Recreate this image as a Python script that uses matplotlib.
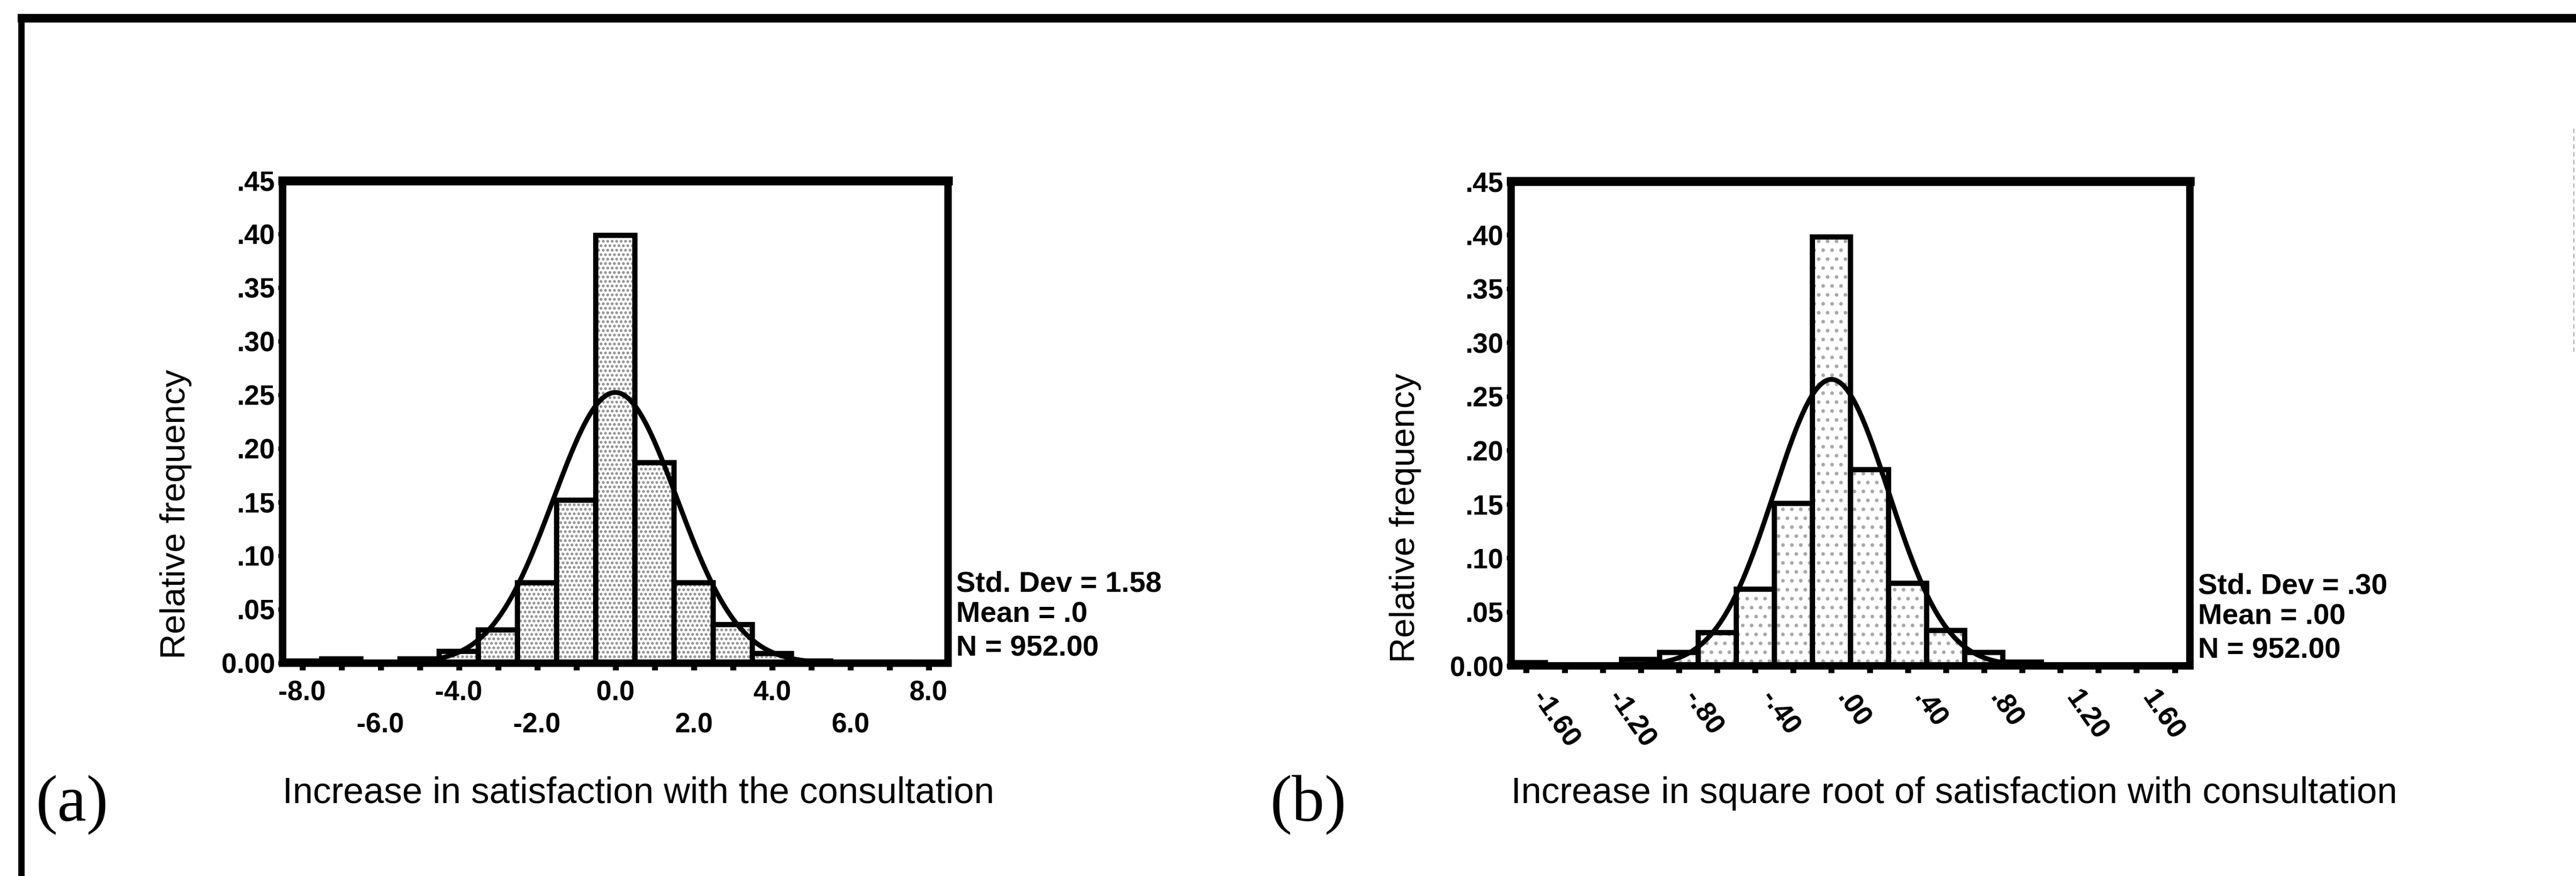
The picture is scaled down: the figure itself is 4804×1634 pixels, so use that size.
import numpy as np
import matplotlib
matplotlib.use("Agg")
import matplotlib.pyplot as plt
from matplotlib.lines import Line2D
from matplotlib.ticker import FixedLocator, FixedFormatter
from matplotlib.transforms import ScaledTranslation

plt.rcParams['font.family'] = ['Liberation Sans', 'DejaVu Sans']
plt.rcParams['hatch.linewidth'] = 2.5

# ---------------- data ----------------
# Panel (a): increase in satisfaction with the consultation
a_centers = [-8, -7, -5, -4, -3, -2, -1, 0, 1, 2, 3, 4, 5, 6, 7]
a_freq = [0.002, 0.004, 0.004, 0.011, 0.031, 0.075, 0.152, 0.399,
          0.187, 0.075, 0.036, 0.009, 0.002, 0.001, 0.001]
a_bin_width = 1.0
a_std, a_mean, a_n = 1.58, 0.0, 952
a_stats = ["Std. Dev = 1.58", "Mean = .0", "N = 952.00"]
a_xlabel = "Increase in satisfaction with the consultation"
a_row1_ticks = [-8, -4, 0, 4, 8]
a_row1_labels = ["-8.0", "-4.0", "0.0", "4.0", "8.0"]
a_row2_ticks = [-6, -2, 2, 6]
a_row2_labels = ["-6.0", "-2.0", "2.0", "6.0"]
a_other_ticks = [-7, -5, -3, -1, 1, 3, 5, 7]

# Panel (b): increase in square root of satisfaction with consultation
b_centers = [-1.6, -1.0, -0.8, -0.6, -0.4, -0.2, 0.0, 0.2, 0.4, 0.6, 0.8, 1.0, 1.2]
b_freq = [0.003, 0.006, 0.0125, 0.031, 0.071, 0.151, 0.398,
          0.182, 0.0765, 0.033, 0.0125, 0.0035, 0.001]
b_bin_width = 0.2
b_std, b_mean, b_n = 0.30, 0.0, 952
b_stats = ["Std. Dev = .30", "Mean = .00", "N = 952.00"]
b_xlabel = "Increase in square root of satisfaction with consultation"
b_label_ticks = [-1.6, -1.2, -0.8, -0.4, 0.0, 0.4, 0.8, 1.2, 1.6]
b_label_texts = ["-1.60", "-1.20", "-.80", "-.40", ".00", ".40", ".80", "1.20", "1.60"]
b_other_ticks = [-1.4, -1.0, -0.6, -0.2, 0.2, 0.6, 1.0, 1.4, 1.8]

y_ticks = [0.0, 0.05, 0.10, 0.15, 0.20, 0.25, 0.30, 0.35, 0.40, 0.45]
y_labels = ["0.00", ".05", ".10", ".15", ".20", ".25", ".30", ".35", ".40", ".45"]
y_title = "Relative frequency"

# ---------------- figure ----------------
W, H, DPI = 4804, 1634, 100
fig = plt.figure(figsize=(W / DPI, H / DPI), dpi=DPI)


def fx(px):
    return px / W


def fy(py):
    return 1 - py / H


def make_axes(l, r, t, b):
    return fig.add_axes([fx(l), fy(b), fx(r) - fx(l), fy(t) - fy(b)])


TICK_FS = 37
STAT_FS = 39
LABEL_FS = 47
XLABEL_FS = 49


def draw_panel(ax, centers, freq, width, mean, sd, xlim, hatch, hatch_color):
    ax.bar(centers, freq, width=width, color='white', edgecolor=hatch_color,
           hatch=hatch, linewidth=0, zorder=1)
    ax.bar(centers, freq, width=width, fill=False, edgecolor='black',
           linewidth=7, zorder=2)
    xs = np.linspace(xlim[0], xlim[1], 800)
    ys = width * np.exp(-0.5 * ((xs - mean) / sd) ** 2) / (sd * np.sqrt(2 * np.pi))
    ax.plot(xs, ys, color='black', lw=6.5, zorder=3, solid_capstyle='round')
    ax.set_xlim(*xlim)
    ax.set_ylim(0, 0.45)
    for s in ax.spines.values():
        s.set_linewidth(10)
    ax.spines['top'].set_linewidth(12)
    ax.set_yticks(y_ticks)
    ax.set_yticklabels(y_labels, fontsize=TICK_FS, fontweight='bold')
    ax.tick_params(axis='y', direction='out', length=6, width=6, pad=4)
    ax.set_ylabel(y_title, fontsize=LABEL_FS)
    ax.yaxis.label.set_rotation_mode('anchor')


def add_stats(ax, lines):
    for txt, yy in zip(lines, [0.164, 0.101, 0.031]):
        ax.text(1.012, yy, txt, transform=ax.transAxes, ha='left', va='center',
                fontsize=STAT_FS, fontweight='bold')


# ----- panel (a) -----
axa = make_axes(527, 1768, 337, 1237)
draw_panel(axa, a_centers, a_freq, a_bin_width, a_mean, a_std, (-8.5, 8.5),
           '..', '#8c8c8c')
axa.xaxis.set_major_locator(FixedLocator(a_row1_ticks))
axa.xaxis.set_major_formatter(FixedFormatter(a_row1_labels))
minor_a = sorted(a_row2_ticks + a_other_ticks)
axa.xaxis.set_minor_locator(FixedLocator(minor_a))
axa.xaxis.set_minor_formatter(FixedFormatter(
    [a_row2_labels[a_row2_ticks.index(t)] if t in a_row2_ticks else '' for t in minor_a]))
axa.tick_params(axis='x', which='both', direction='out', length=9, width=8,
                labelsize=TICK_FS)
axa.tick_params(axis='x', which='major', pad=14)
axa.tick_params(axis='x', which='minor', pad=57)
for lab in axa.get_xticklabels(which='both'):
    lab.set_fontweight('bold')
axa.set_xlabel(a_xlabel, fontsize=XLABEL_FS, ha='left', va='center')
axa.xaxis.set_label_coords(0.0, -0.27)
axa.yaxis.set_label_coords(-0.16, 0.309)
axa.yaxis.label.set_va('center')
add_stats(axa, a_stats)

# ----- panel (b) -----
axb = make_axes(2818, 4084, 338, 1242)
draw_panel(axb, b_centers, b_freq, b_bin_width, b_mean, b_std, (-1.68, 1.88),
           '.', '#a8a8a8')
axb.xaxis.set_major_locator(FixedLocator(b_label_ticks))
axb.xaxis.set_major_formatter(FixedFormatter(b_label_texts))
axb.xaxis.set_minor_locator(FixedLocator(b_other_ticks))
axb.tick_params(axis='x', which='both', direction='out', length=9, width=8,
                labelsize=TICK_FS)
axb.tick_params(axis='x', which='major', pad=18)
shift = ScaledTranslation(40 / DPI, 0, fig.dpi_scale_trans)
for lab in axb.get_xticklabels():
    lab.set_fontweight('bold')
    lab.set_rotation(-55)
    lab.set_ha('left')
    lab.set_va('top')
    lab.set_rotation_mode('anchor')
    lab.set_transform(lab.get_transform() + shift)
axb.set_xlabel(b_xlabel, fontsize=XLABEL_FS, ha='left', va='center')
axb.xaxis.set_label_coords(0.0, -0.263)
axb.yaxis.set_label_coords(-0.156, 0.305)
axb.yaxis.label.set_va('center')
add_stats(axb, b_stats)

# ----- panel letters -----
fig.text(fx(135), fy(1501), "(a)", family=['Liberation Serif', 'DejaVu Serif'],
         fontsize=88, ha='center', va='center')
fig.text(fx(2440), fy(1501), "(b)", family=['Liberation Serif', 'DejaVu Serif'],
         fontsize=88, ha='center', va='center')

# ----- frame lines of the scanned page -----
fig.add_artist(Line2D([fx(33), 1.0], [fy(34), fy(34)], transform=fig.transFigure,
                      color='black', lw=11.5, solid_capstyle='butt'))
fig.add_artist(Line2D([fx(40), fx(40)], [0.0, fy(28)], transform=fig.transFigure,
                      color='black', lw=8.5, solid_capstyle='butt'))
fig.add_artist(Line2D([fx(4800), fx(4800)], [fy(240), fy(656)], transform=fig.transFigure,
                      color='#b0b0b0', lw=1.5, ls=(0, (4, 3))))

fig.savefig("out.png", dpi=DPI, facecolor='white')
